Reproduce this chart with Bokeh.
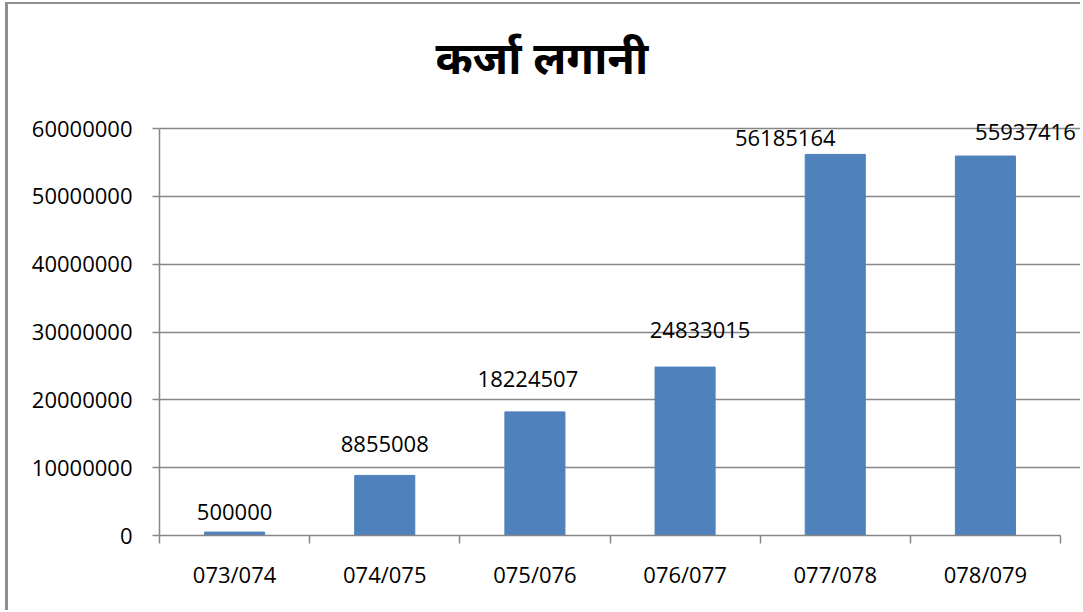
from bokeh.plotting import figure
from bokeh.models import (Range1d, LinearAxis, FixedTicker,
                          NumeralTickFormatter, ColumnDataSource)
from bokeh.embed import file_html
from bokeh.resources import INLINE
from bokeh.core.properties import value

# ---- data ----
categories = ["073/074", "074/075", "075/076", "076/077", "077/078", "078/079"]
loans = [500000, 8855008, 18224507, 24833015, 56185164, 55937416]
y_ticks = [0, 10000000, 20000000, 30000000, 40000000, 50000000, 60000000]
title_text = "कर्जा लगानी"

# label placement offsets (pixels) as in the reference
label_dx = [0, 0, -7, 15, -50, 40]
label_dy = [-20, -31, -33, -37, -16, -24]

FONT = "Open Sans"
GRID = "#868686"
BAR = "#4F81BD"

n = len(categories)
xpos = [i + 0.5 for i in range(n)]
src = ColumnDataSource(dict(x=xpos, top=loans,
                            lab=[str(v) for v in loans], dx=label_dx, dy=label_dy))

W, H = 1075, 608
frame_px = W - 151          # frame spans to the right edge of the canvas
x_end = n * frame_px / 901.0
y_top = y_ticks[-1]
y_end = y_top * 435.0 / 407.0   # frame extends a bit above the top gridline

p = figure(width=W, height=H, output_backend="svg", toolbar_location=None,
           x_range=Range1d(0, x_end), y_range=Range1d(0, y_end),
           x_axis_location=None, y_axis_location=None,
           min_border_left=151, min_border_right=0, min_border_top=96, min_border_bottom=77,
           title=title_text)
p.styles = {"margin-left": "5px", "margin-top": "2px",
            "border-left": "3px solid #8F8F8F", "border-top": "2px solid #8F8F8F"}
p.outline_line_color = None
p.background_fill_color = "white"
p.border_fill_color = "white"
p.xgrid.visible = False

p.title.text_font = "Noto Sans"
p.title.text_font_size = "45px"
p.title.text_font_style = "bold"
p.title.text_color = "black"
p.title.align = "left"
p.title.offset = 276
p.title.standoff = 28

# y axis
yax = LinearAxis(ticker=FixedTicker(ticks=y_ticks), formatter=NumeralTickFormatter(format="0"),
                 bounds=(0, y_top))
yax.axis_line_color = GRID
yax.axis_line_width = 1.5
yax.major_tick_line_color = GRID
yax.major_tick_line_width = 1.5
yax.major_tick_out = 7
yax.major_tick_in = 0
yax.minor_tick_line_color = None
yax.major_label_text_font = FONT
yax.major_label_text_font_size = "22px"
yax.major_label_text_color = "black"
yax.major_label_standoff = 20
p.add_layout(yax, "left")

p.ygrid.ticker = FixedTicker(ticks=y_ticks)
p.ygrid.grid_line_color = GRID
p.ygrid.grid_line_width = 1.5
p.ygrid.bounds = (0, n)

# x axis: tick marks at category boundaries
xnum = LinearAxis(ticker=FixedTicker(ticks=list(range(n + 1))), bounds=(0, n))
xnum.axis_line_color = GRID
xnum.axis_line_width = 1.5
xnum.major_tick_line_color = GRID
xnum.major_tick_line_width = 1.5
xnum.major_tick_out = 8
xnum.major_tick_in = 0
xnum.minor_tick_line_color = None
xnum.major_label_text_font_size = "0px"
xnum.major_label_text_alpha = 0
xnum.major_label_standoff = 0
p.add_layout(xnum, "below")

# x axis: category labels at centers
xcat = LinearAxis(ticker=FixedTicker(ticks=xpos),
                  major_label_overrides={x: c for x, c in zip(xpos, categories)})
xcat.axis_line_color = None
xcat.major_tick_line_color = None
xcat.minor_tick_line_color = None
xcat.major_label_text_font = FONT
xcat.major_label_text_font_size = "22px"
xcat.major_label_text_color = "black"
xcat.major_label_standoff = 9
p.add_layout(xcat, "below")

p.vbar(x="x", top="top", width=0.4, source=src, fill_color=BAR, line_color=BAR)

p.text(x="x", y="top", text="lab", x_offset="dx", y_offset="dy", source=src,
       text_align="center", text_baseline="middle", text_font=value(FONT),
       text_font_size="22px", text_color="black")

open("out.html", "w").write(file_html(p, INLINE))
